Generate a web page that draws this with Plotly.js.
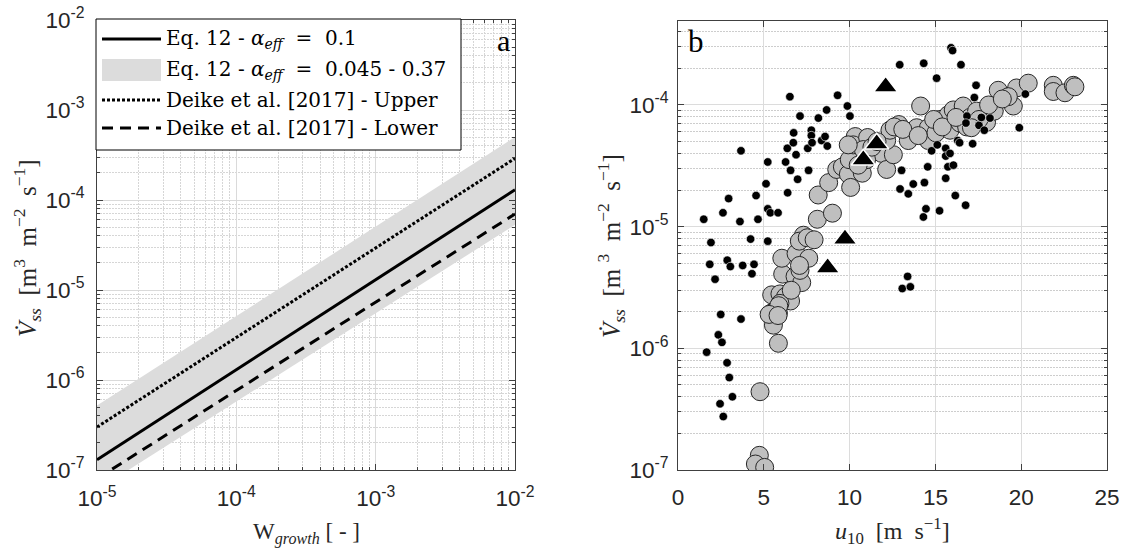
<!DOCTYPE html>
<html>
<head>
<meta charset="utf-8">
<script src="https://cdn.plot.ly/plotly-3.0.1.min.js"></script>
<style>html,body{margin:0;padding:0;background:#fff;}#chart{width:1147px;height:551px;}</style>
</head>
<body>
<div id="chart"></div>
<script>
// ---------- Panel a data ----------
const wGrowth = [1e-5, 1e-2];
const eq12Alpha01 = [1.3e-7, 1.3e-4];
const eq12BandUpper = [5.2e-7, 5.0e-4];
const eq12BandLower = [6.0e-8, 5.3e-5];
const deikeUpper = [3.0e-7, 2.9e-4];
const deikeLower = [8.0e-8, 7.0e-5];

// Legend labels (panel a)
const legendLabels = [
  'Eq. 12 - <i>α</i><sub><i>eff</i></sub>  =  0.1',
  'Eq. 12 - <i>α</i><sub><i>eff</i></sub>  =  0.045 - 0.37',
  'Deike et al. [2017] - Upper',
  'Deike et al. [2017] - Lower'
];

// ---------- Panel b data ----------
const dotsU = [1.50,1.92,1.85,2.16,2.62,2.95,2.87,3.05,3.61,3.67,3.77,4.23,4.31,4.43,4.55,4.66,5.23,5.38,5.83,5.23,5.13,5.23,6.27,6.52,6.56,6.37,6.74,6.72,6.88,6.97,6.39,7.11,7.61,7.56,7.77,7.77,7.81,8.18,8.37,8.57,8.66,8.70,9.30,9.87,10.02,12.92,14.32,15.07,15.91,16.00,16.49,17.37,17.27,16.84,16.78,17.54,17.85,17.68,18.18,17.17,16.30,16.41,20.24,19.89,13.03,12.94,13.42,13.71,14.36,14.55,14.78,15.11,15.60,15.60,15.85,15.73,16.05,15.60,16.16,16.76,14.45,14.30,15.24,13.38,13.07,13.54,2.49,3.67,2.35,2.56,1.67,2.86,2.99,3.17,2.45,2.64];
const dotsV = [1.15e-5,7.4e-6,4.9e-6,3.7e-6,1.3e-5,1.7e-5,5.3e-6,4.7e-6,1.1e-5,4.2e-5,4.8e-6,7.9e-6,4.1e-6,4.9e-6,1.8e-5,1.15e-5,1.4e-5,1.3e-5,1.3e-5,7.6e-6,2.25e-5,3.4e-5,3.4e-5,1.17e-4,2.9e-5,4.4e-5,5.9e-5,4.9e-5,3.9e-5,2.45e-5,1.9e-5,8.1e-5,2.9e-5,4.4e-5,6.2e-5,5.6e-5,4.9e-5,7.8e-5,5.1e-5,5.5e-5,9.1e-5,4.6e-5,1.2e-4,9.8e-5,8.1e-5,2.14e-4,2.2e-4,1.66e-4,2.95e-4,2.8e-4,2.14e-4,1.45e-4,1.15e-4,8.1e-5,7.1e-5,6.8e-5,6.2e-5,7.9e-5,7.8e-5,4.8e-5,5.1e-5,4.9e-5,1.23e-4,6.5e-5,2.9e-5,2.04e-5,1.86e-5,2.24e-5,2.3e-5,3.1e-5,4.2e-5,4.7e-5,4.4e-5,3.8e-5,4.0e-5,3.1e-5,3.2e-5,2.5e-5,1.8e-5,1.5e-5,1.4e-5,1.2e-5,1.35e-5,3.9e-6,3.1e-6,3.2e-6,1.9e-6,1.74e-6,1.29e-6,1.12e-6,9.3e-7,7.6e-7,5.75e-7,4.0e-7,3.5e-7,2.75e-7];

const circU = [4.78,4.74,4.51,5.05,5.85,5.52,5.56,5.44,5.85,5.46,5.94,6.27,6.56,5.94,6.10,6.82,7.21,7.11,6.05,6.88,7.62,7.08,6.60,5.87,5.31,5.83,7.31,7.07,7.53,7.93,8.12,9.00,8.17,8.78,9.25,9.58,9.93,10.06,9.98,10.33,10.21,10.74,11.05,10.80,11.87,12.16,12.55,12.16,12.35,12.87,13.38,13.42,13.91,14.59,14.59,14.14,15.03,15.27,15.75,16.04,16.62,15.85,16.43,16.82,17.02,17.79,17.98,18.43,18.66,19.73,20.41,19.54,19.25,21.87,21.87,22.55,23.04,23.13,17.40,17.54,17.10,9.92,10.99,10.50,11.30,11.60,12.60,13.10,14.00,14.90,15.40,16.20,18.10,18.90];
const circV = [4.4e-7,1.32e-7,1.12e-7,1.05e-7,1.1e-6,1.78e-6,1.55e-6,1.95e-6,1.95e-6,2.75e-6,2.8e-6,2.66e-6,2.45e-6,2.34e-6,4.07e-6,3.9e-6,3.47e-6,4.37e-6,5.5e-6,6.0e-6,5.5e-6,4.8e-6,3.0e-6,2.24e-6,1.9e-6,1.86e-6,8.5e-6,7.6e-6,8.1e-6,7.8e-6,1.15e-5,1.29e-5,1.82e-5,2.3e-5,2.95e-5,3.1e-5,2.7e-5,2.1e-5,3.55e-5,5.5e-5,4.7e-5,2.75e-5,5.4e-5,4.3e-5,4.0e-5,2.95e-5,3.9e-5,5.1e-5,6.2e-5,6.9e-5,6.0e-5,5.1e-5,6.5e-5,6.5e-5,5.1e-5,9.8e-5,5.9e-5,7.6e-5,8.3e-5,9.1e-5,9.8e-5,6.2e-5,7.1e-5,6.6e-5,7.9e-5,8.5e-5,7.2e-5,8.9e-5,1.32e-4,1.38e-4,1.51e-4,9.8e-5,1.17e-4,1.45e-4,1.29e-4,1.26e-4,1.45e-4,1.41e-4,8.9e-5,7.6e-5,6.5e-5,4.7e-5,3.55e-5,3.2e-5,4.5e-5,5.0e-5,6.6e-5,6.3e-5,5.6e-5,7.6e-5,6.6e-5,7.9e-5,1.0e-4,1.12e-4];

const triU = [12.10,11.58,10.80,9.73,8.72];
const triV = [1.41e-4,4.8e-5,3.55e-5,7.9e-6,4.6e-6];

// ---------- Tick labels ----------
const aXTickVals = [1e-5,1e-4,1e-3,1e-2];
const aXTickText = ['10<sup>-5</sup>','10<sup>-4</sup>','10<sup>-3</sup>','10<sup>-2</sup>'];
const aYTickVals = [1e-7,1e-6,1e-5,1e-4,1e-3,1e-2];
const aYTickText = ['10<sup>-7</sup>','10<sup>-6</sup>','10<sup>-5</sup>','10<sup>-4</sup>','10<sup>-3</sup>','10<sup>-2</sup>'];
const bXTickVals = [0,5,10,15,20,25];
const bXTickText = ['0','5','10','15','20','25'];
const bYTickVals = [1e-7,1e-6,1e-5,1e-4];
const bYTickText = ['10<sup>-7</sup>','10<sup>-6</sup>','10<sup>-5</sup>','10<sup>-4</sup>'];

function minorLog(e0, e1){ const v=[]; for(let e=e0;e<e1;e++){ for(let d=2;d<=9;d++){ v.push(d*Math.pow(10,e)); } } return v; }

const W=1147, H=551;
const px = v => v/W, py = v => 1 - v/H;
const serif = 'Liberation Serif, DejaVu Serif, serif';
const legSerif = 'DejaVu Serif, Liberation Serif, serif';
const sans = 'Liberation Sans, Arial, sans-serif';
const axCol = '#404040';
const txtCol = '#262626';
const bandCol = '#dcdcdc';
const dotDash = '3px,2px';
const dashDash = '11px,7px';

const traces = [
  { x:[wGrowth[0], wGrowth[1], wGrowth[1], wGrowth[0]],
    y:[eq12BandUpper[0], eq12BandUpper[1], eq12BandLower[1], eq12BandLower[0]],
    type:'scatter', mode:'lines', fill:'toself', fillcolor:bandCol, line:{width:0, color:bandCol},
    name:legendLabels[1], xaxis:'x', yaxis:'y', hoverinfo:'skip'},
  { x:wGrowth, y:deikeUpper, type:'scatter', mode:'lines', line:{color:'#000', width:3, dash:dotDash},
    name:legendLabels[2], xaxis:'x', yaxis:'y'},
  { x:wGrowth, y:deikeLower, type:'scatter', mode:'lines', line:{color:'#000', width:3, dash:dashDash},
    name:legendLabels[3], xaxis:'x', yaxis:'y'},
  { x:wGrowth, y:eq12Alpha01, type:'scatter', mode:'lines', line:{color:'#000', width:3},
    name:legendLabels[0], xaxis:'x', yaxis:'y'},
  { x:circU, y:circV, type:'scatter', mode:'markers', xaxis:'x2', yaxis:'y2',
    marker:{size:18, color:'#bfbfbf', line:{color:'#262626', width:1}}},
  { x:dotsU, y:dotsV, type:'scatter', mode:'markers', xaxis:'x2', yaxis:'y2',
    marker:{size:8.5, color:'#000', line:{color:'#ffffff', width:0.6}}},
  { x:triU, y:triV, type:'scatter', mode:'markers', xaxis:'x2', yaxis:'y2',
    marker:{size:21, symbol:'triangle-up', color:'#000', line:{color:'#ffffff', width:1.5}}}
];

const tickFont = {family:sans, size:22.5, color:txtCol};
const commonAx = {showline:true, linecolor:axCol, linewidth:1, mirror:'ticks', ticks:'inside', ticklen:6, tickcolor:axCol, tickfont:tickFont, zeroline:false, fixedrange:true};
const minorA = (e0,e1,col) => ({tickmode:'array', tickvals:minorLog(e0,e1), ticks:'inside', ticklen:3, tickcolor:axCol, showgrid:true, gridcolor:col, griddash:'1.5px,1.5px', gridwidth:1});

// manual legend (box, samples, texts)
const legBox = {x0:96, x1:461, y0:19, y1:150};
const legRows = [39, 70, 100, 128];
const legSampleX = [102, 161];
const legTextX = 164;

const shapes = [
  {type:'rect', xref:'paper', yref:'paper', x0:px(legBox.x0), x1:px(legBox.x1), y0:py(legBox.y1), y1:py(legBox.y0), fillcolor:'#fff', line:{color:'#000', width:1}, layer:'above'},
  {type:'line', xref:'paper', yref:'paper', x0:px(legSampleX[0]), x1:px(legSampleX[1]), y0:py(legRows[0]), y1:py(legRows[0]), line:{color:'#000', width:3}},
  {type:'rect', xref:'paper', yref:'paper', x0:px(legSampleX[0]), x1:px(legSampleX[1]), y0:py(legRows[1]+11), y1:py(legRows[1]-11), fillcolor:bandCol, line:{width:0}},
  {type:'line', xref:'paper', yref:'paper', x0:px(legSampleX[0]), x1:px(legSampleX[1]), y0:py(legRows[2]), y1:py(legRows[2]), line:{color:'#000', width:3, dash:dotDash}},
  {type:'line', xref:'paper', yref:'paper', x0:px(legSampleX[0]), x1:px(legSampleX[1]), y0:py(legRows[3]), y1:py(legRows[3]), line:{color:'#000', width:3, dash:dashDash}}
];

const annotations = legendLabels.map((t,i) => ({text:t, xref:'paper', yref:'paper', x:px(legTextX), y:py(legRows[i]), showarrow:false, xanchor:'left', yanchor:'middle', font:{family:legSerif, size:20, color:'#000'}}));

annotations.push(
  {text:'W<sub><i>growth</i></sub> [ - ]', xref:'paper', yref:'paper', x:px(306), y:py(533), showarrow:false, font:{family:serif, size:23, color:txtCol}, xanchor:'center', yanchor:'middle'},
  {text:'<i>V̇</i><sub><i>ss</i></sub>  [m<sup>3</sup>  m<sup>−2</sup>  s<sup>−1</sup>]', xref:'paper', yref:'paper', x:px(27), y:py(248), showarrow:false, textangle:-90, font:{family:serif, size:25, color:txtCol}, xanchor:'center', yanchor:'middle'},
  {text:'<i>u</i><sub>10</sub>  [m  s<sup>−1</sup>]', xref:'paper', yref:'paper', x:px(892), y:py(531), showarrow:false, font:{family:serif, size:24, color:txtCol}, xanchor:'center', yanchor:'middle'},
  {text:'<i>V̇</i><sub><i>ss</i></sub>  [m <sup>3</sup>  m<sup>−2</sup>  s<sup>−1</sup>]', xref:'paper', yref:'paper', x:px(611), y:py(246), showarrow:false, textangle:-90, font:{family:serif, size:25, color:txtCol}, xanchor:'center', yanchor:'middle'},
  {text:'a', xref:'paper', yref:'paper', x:px(512), y:py(40), showarrow:false, font:{family:serif, size:30, color:'#000'}, xanchor:'right', yanchor:'middle'},
  {text:'b', xref:'paper', yref:'paper', x:px(686), y:py(41), showarrow:false, font:{family:serif, size:31, color:'#000'}, xanchor:'left', yanchor:'middle'}
);

const layout = {
  width:W, height:H, margin:{l:0,r:0,t:0,b:0}, paper_bgcolor:'#fff', plot_bgcolor:'#fff',
  showlegend:false,
  xaxis: Object.assign({}, commonAx, {type:'log', range:[-5,-2], domain:[px(97), px(515)], anchor:'y',
    tickmode:'array', tickvals:aXTickVals, ticktext:aXTickText, showgrid:true, gridcolor:'#dadada', gridwidth:1,
    minor:minorA(-5,-2,'#d6d6d6'), ticklabelstandoff:8}),
  yaxis: Object.assign({}, commonAx, {type:'log', range:[-7,-2], domain:[py(470), py(20)], anchor:'x',
    tickmode:'array', tickvals:aYTickVals, ticktext:aYTickText, showgrid:true, gridcolor:'#dadada', gridwidth:1,
    minor:minorA(-7,-2,'#d6d6d6'), ticklabelstandoff:7}),
  xaxis2: Object.assign({}, commonAx, {type:'linear', range:[0,25], domain:[px(678), px(1107)], anchor:'y2',
    tickmode:'array', tickvals:bXTickVals, ticktext:bXTickText, showgrid:true, gridcolor:'#dcdcdc', gridwidth:1,
    ticklabelstandoff:7}),
  yaxis2: Object.assign({}, commonAx, {type:'log', range:[-7,-3.31], domain:[py(470), py(21)], anchor:'x2',
    tickmode:'array', tickvals:bYTickVals, ticktext:bYTickText, showgrid:true, gridcolor:'#dcdcdc', gridwidth:1,
    minor:minorA(-7,-3,'#cdcdcd'), ticklabelstandoff:4}),
  shapes: shapes,
  annotations: annotations
};

Plotly.newPlot('chart', traces, layout, {staticPlot:true, displayModeBar:false});
</script>
</body>
</html>
